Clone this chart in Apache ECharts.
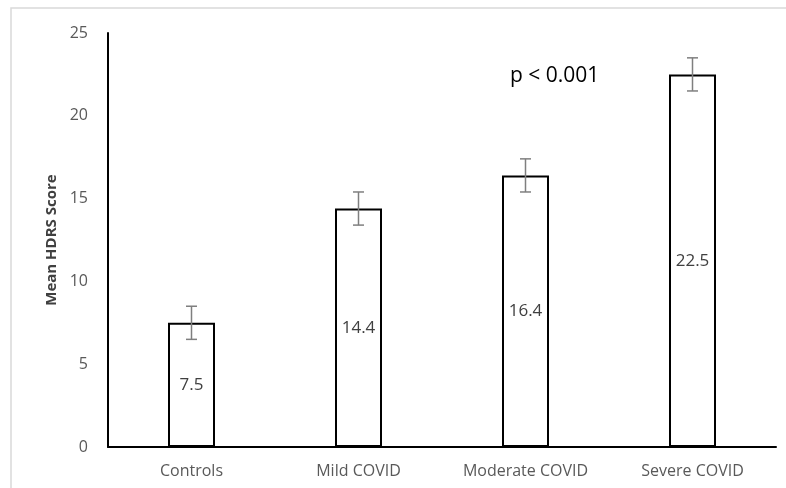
<!DOCTYPE html>
<html><head><meta charset="utf-8">
<script src="https://cdn.jsdelivr.net/npm/echarts@6/dist/echarts.min.js"></script>
<style>html,body{margin:0;padding:0;background:#fff}#c{width:786px;height:488px}</style>
</head><body><div id="c"></div>
<script>
const categories = ['Controls', 'Mild COVID', 'Moderate COVID', 'Severe COVID'];
const means = [7.5, 14.4, 16.4, 22.5];
const errors = [1.0, 1.0, 1.0, 1.0];
const yTicks = [0, 5, 10, 15, 20, 25];

const chart = echarts.init(document.getElementById('c'));
const FONT = '"Open Sans", "Noto Sans", sans-serif';
chart.setOption({
  animation: false,
  grid: {left: 108, top: 33, right: 10, bottom: 41},
  graphic: [
    {type: 'rect', shape: {x: 11, y: 8, width: 800, height: 500}, style: {fill: 'none', stroke: '#d9d9d9', lineWidth: 1.5}, silent: true, z: -1},
    {type: 'text', left: 510, top: 66, style: {text: 'p < 0.001', font: '21px ' + FONT, fill: '#000'}}
  ],
  xAxis: {
    type: 'category', data: categories,
    axisLine: {lineStyle: {color: '#000', width: 2}},
    axisTick: {show: false},
    axisLabel: {color: '#595959', fontSize: 16, fontFamily: FONT, margin: 16}
  },
  yAxis: {
    type: 'value', min: yTicks[0], max: yTicks[yTicks.length - 1], interval: 5,
    name: 'Mean HDRS Score', nameLocation: 'middle', nameGap: 46,
    nameTextStyle: {fontWeight: 'bold', fontSize: 15, color: '#404040', fontFamily: FONT},
    axisLine: {show: true, lineStyle: {color: '#000', width: 2}},
    axisTick: {show: false},
    splitLine: {show: false},
    axisLabel: {color: '#595959', fontSize: 16, fontFamily: FONT, margin: 20}
  },
  series: [
    {
      type: 'bar', data: means, barWidth: 47,
      itemStyle: {color: '#fff', borderColor: '#000', borderWidth: 2},
      label: {show: true, position: 'inside', color: '#404040', fontSize: 17, fontFamily: FONT, formatter: p => p.value.toFixed(1)}
    },
    {
      type: 'custom', z: 10,
      data: means.map((m, i) => [i, m - errors[i], m + errors[i]]),
      renderItem: (params, api) => {
        const lo = api.coord([api.value(0), api.value(1)]);
        const hi = api.coord([api.value(0), api.value(2)]);
        const x = lo[0], hw = 5.5;
        const st = {stroke: '#7f7f7f', lineWidth: 1.5};
        return {type: 'group', children: [
          {type: 'line', shape: {x1: x, y1: lo[1], x2: x, y2: hi[1]}, style: st},
          {type: 'line', shape: {x1: x - hw, y1: lo[1], x2: x + hw, y2: lo[1]}, style: st},
          {type: 'line', shape: {x1: x - hw, y1: hi[1], x2: x + hw, y2: hi[1]}, style: st}
        ]};
      }
    }
  ]
});
</script></body></html>
